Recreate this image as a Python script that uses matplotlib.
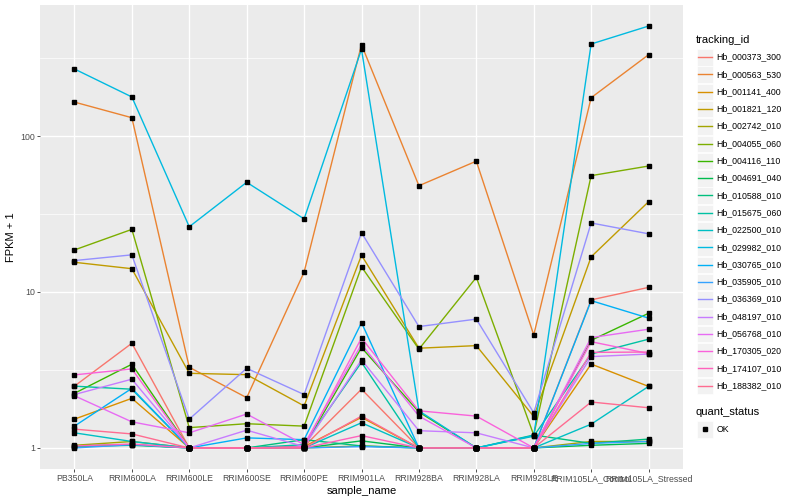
import matplotlib
matplotlib.use("Agg")
import matplotlib.pyplot as plt
from matplotlib.patches import Rectangle
from matplotlib.ticker import FixedLocator, NullFormatter

plt.rcParams['font.family'] = ['Liberation Sans', 'DejaVu Sans']

# sample names (x axis)
samples = ['PB350LA', 'RRIM600LA', 'RRIM600LE', 'RRIM600SE', 'RRIM600PE', 'RRIM901LA',
           'RRIM928BA', 'RRIM928LA', 'RRIM928LE', 'RRIM105LA_Control', 'RRIM105LA_Stressed']

# gene ids, in legend order
tracking_ids = ['Hb_000373_300', 'Hb_000563_530', 'Hb_001141_400', 'Hb_001821_120',
                'Hb_002742_010', 'Hb_004055_060', 'Hb_004116_110', 'Hb_004691_040',
                'Hb_010588_010', 'Hb_015675_060', 'Hb_022500_010', 'Hb_029982_010',
                'Hb_030765_010', 'Hb_035905_010', 'Hb_036369_010', 'Hb_048197_010',
                'Hb_056768_010', 'Hb_170305_020', 'Hb_174107_010', 'Hb_188382_010']

# ggplot default hue palette for 20 levels
colors = ['#F8766D', '#EA8331', '#D89000', '#C09B00', '#A3A500', '#7CAE00', '#39B600',
          '#00BB4E', '#00BF7D', '#00C1A3', '#00BFC4', '#00BAE0', '#00B0F6', '#35A2FF',
          '#9590FF', '#C77CFF', '#E76BF3', '#FA62DB', '#FF62BC', '#FF6C91']

# FPKM + 1 per gene, one value per sample
Hb_000373_300 = [2.49, 4.69, 1.0, 1.0, 1.02, 2.38, 1.0, 1.0, 1.0, 8.9, 10.7]
Hb_000563_530 = [165, 131, 3.29, 2.1, 13.4, 385, 48, 69, 5.3, 176, 332]
Hb_001141_400 = [1.53, 2.08, 1.0, 1.0, 1.02, 1.57, 1.0, 1.0, 1.0, 3.45, 2.48]
Hb_001821_120 = [15.5, 14.1, 3.01, 2.95, 1.86, 17.2, 4.36, 4.53, 1.59, 16.8, 37.9]
Hb_002742_010 = [1.04, 1.1, 1.0, 1.0, 1.0, 1.03, 1.0, 1.0, 1.0, 1.1, 1.1]
Hb_004055_060 = [18.6, 25.2, 1.35, 1.43, 1.38, 14.5, 4.3, 12.4, 1.21, 55.7, 64.2]
Hb_004116_110 = [2.24, 3.44, 1.0, 1.0, 1.02, 4.4, 1.7, 1.0, 1.0, 4.9, 7.3]
Hb_004691_040 = [1.03, 1.05, 1.0, 1.0, 1.0, 1.11, 1.0, 1.0, 1.0, 1.04, 1.07]
Hb_010588_010 = [1.02, 1.04, 1.0, 1.0, 1.13, 1.03, 1.0, 1.0, 1.21, 1.07, 1.14]
Hb_015675_060 = [2.49, 2.38, 1.0, 1.0, 1.05, 3.54, 1.0, 1.0, 1.19, 4.0, 4.98]
Hb_022500_010 = [1.25, 1.1, 1.0, 1.0, 1.0, 1.45, 1.0, 1.0, 1.0, 1.42, 2.48]
Hb_029982_010 = [269, 178, 26.2, 50.5, 29.4, 360, 1.73, 1.0, 1.2, 389, 507]
Hb_030765_010 = [1.38, 2.41, 1.0, 1.16, 1.13, 6.36, 1.0, 1.0, 1.0, 8.8, 6.8]
Hb_035905_010 = [1.0, 1.05, 1.0, 1.0, 1.0, 1.02, 1.0, 1.0, 1.0, 1.07, 1.1]
Hb_036369_010 = [15.9, 17.3, 1.53, 3.24, 2.2, 24, 6.0, 6.7, 1.68, 27.7, 23.6]
Hb_048197_010 = [2.2, 2.76, 1.0, 1.3, 1.02, 3.67, 1.29, 1.25, 1.0, 3.85, 4.0]
Hb_056768_010 = [2.16, 1.47, 1.25, 1.65, 1.05, 4.62, 1.6, 1.0, 1.0, 5.1, 5.77]
Hb_170305_020 = [2.94, 3.21, 1.0, 1.0, 1.02, 5.07, 1.73, 1.6, 1.0, 4.8, 4.03]
Hb_174107_010 = [1.03, 1.06, 1.0, 1.0, 1.0, 1.2, 1.0, 1.0, 1.0, 4.1, 4.12]
Hb_188382_010 = [1.32, 1.23, 1.0, 1.0, 1.0, 1.6, 1.0, 1.0, 1.0, 1.97, 1.81]

series = [Hb_000373_300, Hb_000563_530, Hb_001141_400, Hb_001821_120, Hb_002742_010,
          Hb_004055_060, Hb_004116_110, Hb_004691_040, Hb_010588_010, Hb_015675_060,
          Hb_022500_010, Hb_029982_010, Hb_030765_010, Hb_035905_010, Hb_036369_010,
          Hb_048197_010, Hb_056768_010, Hb_170305_020, Hb_174107_010, Hb_188382_010]

fig = plt.figure(figsize=(8, 5), dpi=100)
ax = fig.add_axes([40 / 800, 1 - 469 / 500, 643 / 800, 464 / 500])
ax.set_facecolor('#EBEBEB')

xs = list(range(len(samples)))

# lines first, then points on top
for vals, col in zip(series, colors):
    ax.plot(xs, vals, color=col, lw=1.0, zorder=3)
for vals in series:
    ax.plot(xs, vals, ls='none', marker='s', ms=3, color='black', zorder=4)

ax.set_yscale('log')
ax.set_ylim(10 ** -0.135, 10 ** 2.84)
ax.set_xlim(-0.6, len(samples) - 0.4)

ax.yaxis.set_major_locator(FixedLocator([1, 10, 100]))
ax.set_yticklabels(['1', '10', '100'])
ax.yaxis.set_minor_locator(FixedLocator([10 ** 0.5, 10 ** 1.5, 10 ** 2.5]))
ax.yaxis.set_minor_formatter(NullFormatter())
ax.set_xticks(xs)
ax.set_xticklabels(samples)

# ggplot-like grid
ax.grid(which='major', color='white', lw=1.0, zorder=1)
ax.grid(which='minor', axis='y', color='white', lw=0.5, zorder=1)
ax.set_axisbelow(True)
for s in ax.spines.values():
    s.set_visible(False)
ax.tick_params(which='major', length=2.0, width=0.6, color='#333333',
               labelsize=6.3, labelcolor='#4D4D4D', pad=1.5)
ax.tick_params(which='minor', length=0)

ax.set_xlabel('sample_name', fontsize=8, labelpad=2)
ax.set_ylabel('FPKM + 1', fontsize=8, labelpad=3)

# legend, drawn by hand in pixel coordinates on the right
lax = fig.add_axes([0, 0, 1, 1])
lax.set_xlim(0, 800)
lax.set_ylim(500, 0)
lax.axis('off')

lax.text(696, 40, 'tracking_id', fontsize=8, va='center', ha='left')
y0, dy = 57, 17.3
for i, (name, col) in enumerate(zip(tracking_ids, colors)):
    yy = y0 + i * dy
    lax.add_patch(Rectangle((696.5, yy - 8), 16.5, 16.5, facecolor='#F2F2F2',
                            edgecolor='white', lw=0.5))
    lax.plot([698, 711.5], [yy, yy], color=col, lw=1.0)
    lax.text(716.5, yy, name, fontsize=6.3, va='center', ha='left')

lax.text(696, 412, 'quant_status', fontsize=8, va='center', ha='left')
lax.add_patch(Rectangle((696.5, 421), 16.5, 16.5, facecolor='#F2F2F2',
                        edgecolor='white', lw=0.5))
lax.plot([704.75], [429.25], ls='none', marker='s', ms=3, color='black')
lax.text(716.5, 429.25, 'OK', fontsize=6.3, va='center', ha='left')

fig.savefig('out.png', dpi=100)
